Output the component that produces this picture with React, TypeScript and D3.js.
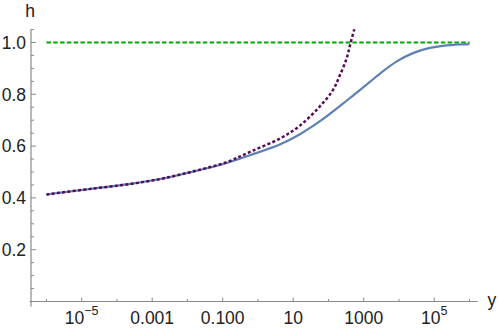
import React, { useRef, useEffect } from 'react';
import * as d3 from 'd3';

// solid curve h(y)
const solidY = [1e-6, 2.4e-6, 2.1e-5, 1.9e-4, 1.7e-3, 0.015, 0.13, 0.6, 4.3, 15.5, 71, 355, 1500, 2900, 8700, 2.6e4, 7.6e4, 2.2e5, 1e6];
const solidH = [0.413, 0.42, 0.436, 0.452, 0.473, 0.502, 0.535, 0.565, 0.607, 0.646, 0.705, 0.779, 0.848, 0.88, 0.927, 0.96, 0.979, 0.989, 0.994];

// dotted approximation
const dotY = [1e-6, 2.4e-6, 2.1e-5, 1.9e-4, 1.7e-3, 0.015, 0.13, 0.6, 4.3, 15.5, 56, 135, 210, 325, 410, 575];
const dotH = [0.413, 0.42, 0.436, 0.452, 0.473, 0.503, 0.538, 0.578, 0.63, 0.679, 0.752, 0.817, 0.873, 0.937, 0.99, 1.065];

// asymptote
const limitY = [1e-6, 1e6];
const limitH = [1, 1];

const xMajor = [1e-5, 1e-3, 0.1, 10, 1000, 1e5];
const xMajorLabels = [['10', '−5'], ['0.001', ''], ['0.100', ''], ['10', ''], ['1000', ''], ['10', '5']];
const xMinor = [1e-6, 1e-4, 1e-2, 1, 100, 1e4, 1e6];
const yMajor = [0.2, 0.4, 0.6, 0.8, 1.0];
const yMinor = [0.05, 0.1, 0.15, 0.25, 0.3, 0.35, 0.45, 0.5, 0.55, 0.65, 0.7, 0.75, 0.85, 0.9, 0.95, 1.05];

const App = () => {
  const svgRef = useRef<SVGSVGElement>(null);

  useEffect(() => {
    const svg = d3.select(svgRef.current);
    svg.selectAll('*').remove();

    const W = 498, H = 328;
    const left = 31, right = 477.7, bottom = 301.5, top = 29.3;

    const x = d3.scaleLog()
      .domain([Math.pow(10, -6.438), Math.pow(10, 6.234)])
      .range([left, right]);
    const y = d3.scaleLinear().domain([0, 1]).range([bottom, 42.5]);

    svg.attr('width', W).attr('height', H);

    svg.append('defs').append('clipPath').attr('id', 'plotclip')
      .append('rect').attr('x', left).attr('y', top).attr('width', right - left).attr('height', bottom - top + 10);

    const font = "'Liberation Sans', Arial, sans-serif";
    const axisColor = '#8a8a8a';

    // axes
    svg.append('line').attr('x1', left).attr('x2', left).attr('y1', top).attr('y2', 306.5)
      .attr('stroke', axisColor).attr('stroke-width', 1.2);
    svg.append('line').attr('x1', 29.5).attr('x2', right).attr('y1', bottom).attr('y2', bottom)
      .attr('stroke', axisColor).attr('stroke-width', 1.2);

    // y ticks
    svg.selectAll('.ymaj').data(yMajor).enter().append('line')
      .attr('x1', left).attr('x2', left + 5).attr('y1', d => y(d)).attr('y2', d => y(d))
      .attr('stroke', axisColor).attr('stroke-width', 1);
    svg.selectAll('.ymin').data(yMinor).enter().append('line')
      .attr('x1', left).attr('x2', left + 3).attr('y1', d => y(d)).attr('y2', d => y(d))
      .attr('stroke', axisColor).attr('stroke-width', 1);
    svg.selectAll('.ylab').data(yMajor).enter().append('text')
      .attr('x', 26).attr('y', d => y(d) + 6.3)
      .attr('text-anchor', 'end').attr('font-family', font).attr('font-size', 17.5).attr('fill', '#222')
      .text(d => d.toFixed(1));

    // x ticks
    svg.selectAll('.xmaj').data(xMajor).enter().append('line')
      .attr('x1', d => x(d)).attr('x2', d => x(d)).attr('y1', bottom).attr('y2', bottom - 4)
      .attr('stroke', axisColor).attr('stroke-width', 1);
    svg.selectAll('.xmin').data(xMinor).enter().append('line')
      .attr('x1', d => x(d)).attr('x2', d => x(d)).attr('y1', bottom).attr('y2', bottom - 2.5)
      .attr('stroke', axisColor).attr('stroke-width', 1);
    const xl = svg.selectAll('.xlab').data(xMajor).enter().append('text')
      .attr('x', d => x(d)).attr('y', 324)
      .attr('text-anchor', 'middle').attr('font-family', font).attr('font-size', 17.5).attr('fill', '#222');
    xl.each(function (d, i) {
      const t = d3.select(this);
      const [base, sup] = xMajorLabels[i];
      t.append('tspan').text(base);
      if (sup) t.append('tspan').attr('font-size', 12.5).attr('dy', -9).text(sup);
    });

    // axis labels
    svg.append('text').attr('x', 30).attr('y', 17).attr('text-anchor', 'middle')
      .attr('font-family', font).attr('font-size', 17.5).attr('fill', '#222').text('h');
    svg.append('text').attr('x', 487.5).attr('y', 306).attr('font-family', font)
      .attr('font-size', 17.5).attr('fill', '#222').text('y');

    const g = svg.append('g').attr('clip-path', 'url(#plotclip)');
    const line = d3.line<number>()
      .x(d => d[0]).y(d => d[1])
      .curve(d3.curveCatmullRom.alpha(0.5));
    const pts = (xs: number[], hs: number[]) => xs.map((v, i) => [x(v), y(hs[i])]);

    g.append('path').attr('d', line(pts(limitY, limitH) as any))
      .attr('fill', 'none').attr('stroke', '#00aa00').attr('stroke-width', 2)
      .attr('stroke-dasharray', '4.5,2.3');
    g.append('path').attr('d', line(pts(solidY, solidH) as any))
      .attr('fill', 'none').attr('stroke', '#5e81b5').attr('stroke-width', 2.2);
    g.append('path').attr('d', line(pts(dotY, dotH) as any))
      .attr('fill', 'none').attr('stroke', '#560b56').attr('stroke-width', 2.5)
      .attr('stroke-dasharray', '3,2.3');
  }, []);

  return <svg ref={svgRef} style={{ position: 'absolute', left: 0, top: 0 }}></svg>;
};

export default App;
